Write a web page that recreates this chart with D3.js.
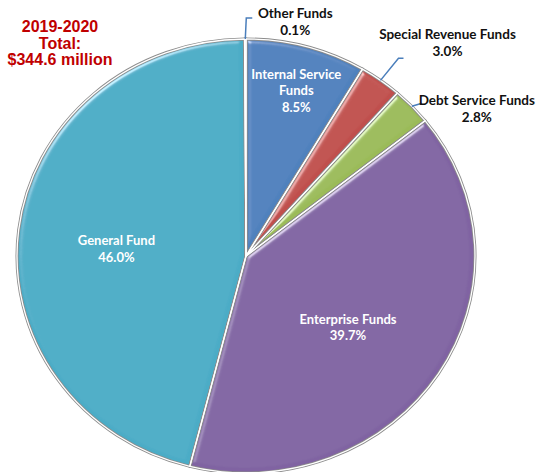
<!DOCTYPE html>
<html>
<head>
<meta charset="utf-8">
<script src="https://cdn.jsdelivr.net/npm/d3@7/dist/d3.min.js"></script>
<style>
  html, body { margin: 0; padding: 0; background: #ffffff; }
  svg { display: block; }
</style>
</head>
<body>
<svg id="chart" width="538" height="472"></svg>
<script>
// Fund shares of the 2019-2020 budget, drawn clockwise from 12 o'clock
const categories = ["Internal Service Funds", "Special Revenue Funds", "Debt Service Funds",
                    "Enterprise Funds", "General Fund", "Other Funds"];
const shares = [8.5, 3.0, 2.8, 39.7, 46.0, 0.1];
const sliceColors = ["#4F81BD", "#C0504D", "#9BBB59", "#8064A2", "#4BACC6", "#F79646"];
// Text lines for each slice label
const labelLines = [
  ["Internal Service", "Funds", "8.5%"],
  ["Special Revenue Funds", "3.0%"],
  ["Debt Service Funds", "2.8%"],
  ["Enterprise Funds", "39.7%"],
  ["General Fund", "46.0%"],
  ["Other Funds", "0.1%"]
];
const titleLines = ["2019-2020", "Total:", "$344.6 million"];

const W = 538, H = 472;
const cx = 246, cy = 256, rx = 229, ry = 217;
const yScale = ry / rx;

const svg = d3.select("#chart");
const defs = svg.append("defs");

// soft bevel highlight along slice edges
const bevel = defs.append("filter").attr("id", "bevel")
  .attr("x", "-5%").attr("y", "-5%").attr("width", "110%").attr("height", "110%");
bevel.append("feGaussianBlur").attr("in", "SourceAlpha").attr("stdDeviation", 2.5).attr("result", "blur");
const spec = bevel.append("feSpecularLighting").attr("in", "blur")
  .attr("surfaceScale", 3).attr("specularConstant", 0.7).attr("specularExponent", 30)
  .attr("lighting-color", "#ffffff").attr("result", "spec");
spec.append("feDistantLight").attr("azimuth", 235).attr("elevation", 35);
bevel.append("feComposite").attr("in", "spec").attr("in2", "SourceAlpha").attr("operator", "in").attr("result", "specIn");
bevel.append("feComposite").attr("in", "SourceGraphic").attr("in2", "specIn")
  .attr("operator", "arithmetic").attr("k1", 0).attr("k2", 1).attr("k3", 0.7).attr("k4", 0);

const data = categories.map((c, i) => ({ name: c, value: shares[i], color: sliceColors[i], lines: labelLines[i] }));

const pie = d3.pie().sort(null).value(d => d.value).startAngle(0).endAngle(2 * Math.PI);
const arcs = pie(data);
const arc = d3.arc().innerRadius(0).outerRadius(rx);

const pieG = svg.append("g").attr("transform", `translate(${cx},${cy}) scale(1,${yScale})`);

// filled slices
pieG.selectAll("path.slice").data(arcs).join("path")
  .attr("class", "slice")
  .attr("d", arc)
  .attr("fill", d => d.data.color)
  .attr("filter", "url(#bevel)");

// grey outline, then white separators on top
pieG.selectAll("path.edge").data(arcs).join("path")
  .attr("class", "edge")
  .attr("d", arc)
  .attr("fill", "none")
  .attr("stroke", "#8c8c8c")
  .attr("stroke-width", 3)
  .attr("stroke-linejoin", "round")
  .attr("vector-effect", "non-scaling-stroke");
pieG.selectAll("path.sep").data(arcs).join("path")
  .attr("class", "sep")
  .attr("d", arc)
  .attr("fill", "none")
  .attr("stroke", "#ffffff")
  .attr("stroke-width", 1.3)
  .attr("stroke-linejoin", "round")
  .attr("vector-effect", "non-scaling-stroke");

// point on the ellipse rim (or inside, with factor f) at angle a
function rimPoint(a, f) {
  return [cx + f * rx * Math.sin(a), cy - f * ry * Math.cos(a)];
}
const midAngle = d => (d.startAngle + d.endAngle) / 2;

const font = "Lato, 'Open Sans', sans-serif";
const lineH = 16.5;

// inside labels: radial factor and small nudges
const insideLayout = {
  "Internal Service Funds": { f: 0.8, dx: 2, dy: 2 },
  "Enterprise Funds": { f: 0.53, dx: 0, dy: 9 },
  "General Fund": { f: 0.57, dx: 0, dy: 8 }
};
// outside labels: leader elbow offsets from rim and label anchor offsets
const outsideLayout = {
  "Other Funds": { elbow: [1, -21], tail: 6, label: [50, -21] },
  "Special Revenue Funds": { elbow: [18, -22], tail: 5, label: [67, -41] },
  "Debt Service Funds": { elbow: [10, -3], tail: 0, label: [65, -1] }
};

const labelG = svg.append("g");

arcs.forEach(d => {
  const name = d.data.name;
  const a = midAngle(d);
  if (insideLayout[name]) {
    const L = insideLayout[name];
    const [px, py] = rimPoint(a, L.f);
    const n = d.data.lines.length;
    const t = labelG.append("text")
      .attr("text-anchor", "middle")
      .attr("font-family", font)
      .attr("font-weight", "bold")
      .attr("font-size", 13)
      .attr("fill", "#ffffff");
    d.data.lines.forEach((ln, i) => {
      t.append("tspan")
        .attr("x", px + L.dx)
        .attr("y", py + L.dy + (i - (n - 1) / 2) * lineH + 4.5)
        .text(ln);
    });
  } else if (outsideLayout[name]) {
    const L = outsideLayout[name];
    const [px, py] = rimPoint(a, 1);
    const ex = px + L.elbow[0], ey = py + L.elbow[1];
    labelG.append("path")
      .attr("d", d3.line()([[px, py], [ex, ey], [ex + L.tail, ey]]))
      .attr("fill", "none")
      .attr("stroke", "#4A7EBB")
      .attr("stroke-width", 1.5);
    const lx = px + L.label[0], ly = py + L.label[1];
    const t = labelG.append("text")
      .attr("text-anchor", "middle")
      .attr("font-family", font)
      .attr("font-weight", "bold")
      .attr("font-size", 13.5)
      .attr("fill", "#111111");
    d.data.lines.forEach((ln, i) => {
      t.append("tspan").attr("x", lx).attr("y", ly + i * lineH).text(ln);
    });
  }
});

// total title block
const title = svg.append("text")
  .attr("text-anchor", "middle")
  .attr("font-family", "'Liberation Sans', Arial, sans-serif")
  .attr("font-weight", "bold")
  .attr("font-size", 16)
  .attr("fill", "#C00000");
titleLines.forEach((ln, i) => {
  title.append("tspan").attr("x", 60).attr("y", 32 + i * 16.5).text(ln);
});
</script>
</body>
</html>
